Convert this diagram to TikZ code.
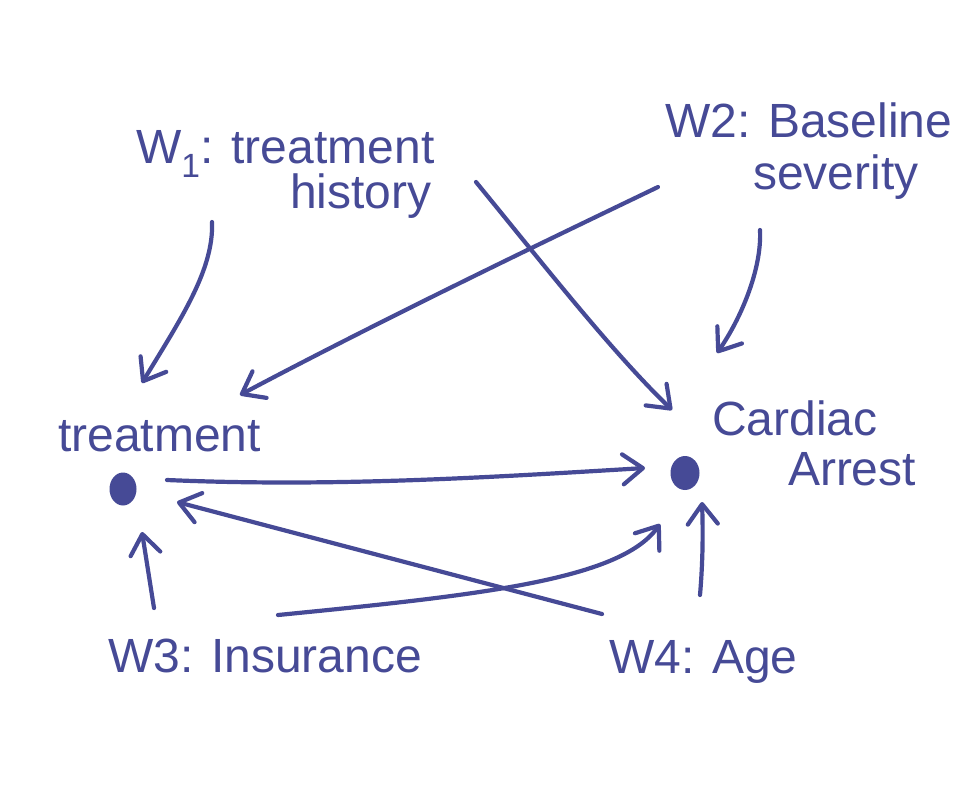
\documentclass[tikz,border=0pt]{standalone}
\usepackage{fontspec}
\setmainfont{Liberation Sans}
\usetikzlibrary{arrows.meta,shapes.geometric}
\definecolor{ink}{RGB}{70,74,150}
\begin{document}
\begin{tikzpicture}[x=1pt,y=-1pt,
  lbl/.style={anchor=base west,inner sep=0pt,outer sep=0pt,text=ink,font=\fontsize{48}{50}\selectfont},
  dot/.style={ellipse,fill=ink,draw=none,inner sep=0pt},
  arr/.style={draw=ink,line width=4.2pt,line cap=round,line join=round,
    -{Straight Barb[length=20pt,width=30pt,round]}}]
\fill[white] (0,0) rectangle (973,787);
\useasboundingbox (0,0) rectangle (973,787);

% labels
\node[lbl] (w1a) at (136,163) {W\textsubscript{1}: treatment};
\node[lbl] (w1b) at (290,208) {history};
\node[lbl] (w2a) at (665,137) {W2: Baseline};
\node[lbl] (w2b) at (753,189) {severity};
\node[lbl] (tl) at (58,451) {treatment};
\node[lbl] (ca) at (712,435) {Cardiac};
\node[lbl] (cb) at (788,485) {Arrest};
\node[lbl] (w3) at (108,672) {W3: Insurance};
\node[lbl] (w4) at (609,673) {W4: Age};

% dots
\node[dot,minimum width=27pt,minimum height=33pt] (T) at (123,489) {};
\node[dot,minimum width=29pt,minimum height=34pt] (C) at (685,473) {};

% connector end points
\coordinate (w1s) at (212,222);
\coordinate (w1e) at (142,383);
\coordinate (w1hs) at (476,182);
\coordinate (w1he) at (672,410);
\coordinate (w2s) at (658,187);
\coordinate (w2e) at (240,395);
\coordinate (w2cs) at (760,230);
\coordinate (w2ce) at (717,353);
\coordinate (tcs) at (167,480);
\coordinate (tce) at (645,468);
\coordinate (w4ts) at (602,614);
\coordinate (w4te) at (177,502);
\coordinate (w3cs) at (278,615);
\coordinate (w3ce) at (660,524);
\coordinate (w4cs) at (700,595);
\coordinate (w4ce) at (702,502);
\coordinate (w3ts) at (154,608);
\coordinate (w3te) at (142,532);

% connectors
\draw[arr] (w1s) .. controls (214,270) and (180,320) .. (w1e);
\draw[arr] (w1hs) .. controls (540,260) and (610,350) .. (w1he);
\draw[arr] (w2s) .. controls (600,215) and (400,310) .. (w2e);
\draw[arr] (w2cs) .. controls (762,270) and (740,320) .. (w2ce);
\draw[arr] (tcs) .. controls (330,487) and (480,478) .. (tce);
\draw[arr] (w4ts) -- (w4te);
\draw[arr] (w3cs) .. controls (480,595) and (620,580) .. (w3ce);
\draw[arr] (w4cs) .. controls (703,560) and (703,530) .. (w4ce);
\draw[arr] (w3ts) -- (w3te);
\end{tikzpicture}
\end{document}
